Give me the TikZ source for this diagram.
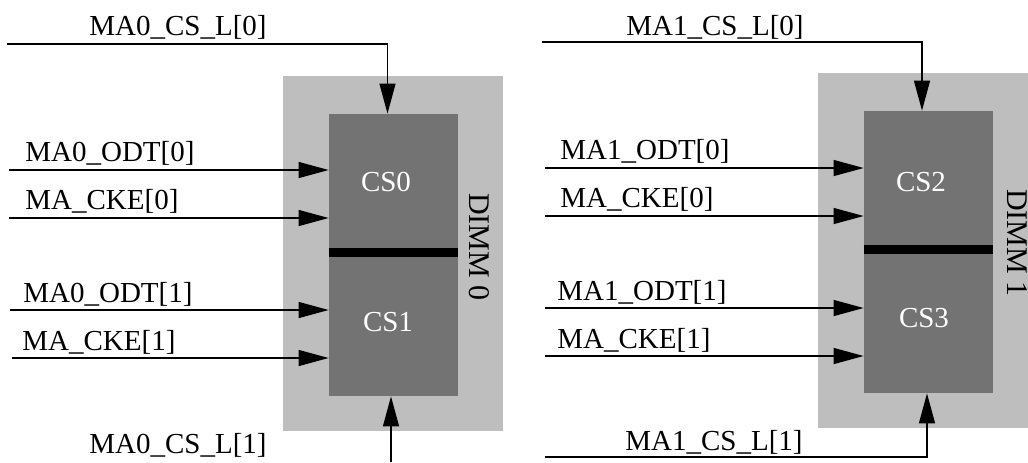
\documentclass[tikz,border=0pt]{standalone}
\usepackage{fontspec}
\setmainfont{Liberation Serif}
\usetikzlibrary{arrows.meta,fit}
\definecolor{dimmgray}{RGB}{190,190,190}
\definecolor{rankgray}{RGB}{115,115,115}
\tikzset{
  dimmbox/.style={fill=dimmgray,inner sep=0pt},
  rankbox/.style={fill=rankgray,inner sep=0pt},
  ranklabel/.style={inner sep=0pt,text=white,font=\fontsize{14.5}{16}\selectfont},
  rankbar/.style={line width=4.5pt},
  sigline/.style={-{Triangle[length=15pt,width=8pt]},line width=0.65pt},
  siglabel/.style={anchor=base west,inner sep=0pt,font=\fontsize{14.5}{16}\selectfont},
  dimmlabel/.style={rotate=-90,inner sep=0pt,font=\fontsize{15}{16}\selectfont}
}
\begin{document}
\begin{tikzpicture}[x=0.5pt,y=-0.5pt]
  \useasboundingbox (0,0) rectangle (1028,462);
  % DIMM 0
  \node[dimmbox,fit={(283,76) (503,431)}] (dimm0) {};
  \node[rankbox,fit={(329,114) (458,252)}] (cs0) {};
  \node[rankbox,fit={(329,252) (458,396)}] (cs1) {};
  \draw[rankbar] (cs0.south west)--(cs0.south east);
  \node[ranklabel] (cs0lbl) at (386,182) {CS0};
  \node[ranklabel] (cs1lbl) at (388,322) {CS1};
  \node[dimmlabel] (dimm0lbl) at (479,247) {DIMM 0};
  \coordinate (csl00) at (7,44);
  \coordinate (odt00) at (9,170);
  \coordinate (cke00) at (9,218);
  \coordinate (odt01) at (10,310);
  \coordinate (cke01) at (12,358);
  \coordinate (csl01) at (391,462);
  \node[siglabel] (csl00lbl) at (89,35) {MA0\_CS\_L[0]};
  \node[siglabel] (odt00lbl) at (25,161) {MA0\_ODT[0]};
  \node[siglabel] (cke00lbl) at (25,209) {MA\_CKE[0]};
  \node[siglabel] (odt01lbl) at (23,302) {MA0\_ODT[1]};
  \node[siglabel] (cke01lbl) at (22,350) {MA\_CKE[1]};
  \node[siglabel] (csl01lbl) at (89,453) {MA0\_CS\_L[1]};
  \draw[sigline] (csl00) -| ([xshift=-3pt]cs0.north);
  \draw[sigline] (odt00)--(odt00 -| cs0.west);
  \draw[sigline] (cke00)--(cke00 -| cs0.west);
  \draw[sigline] (odt01)--(odt01 -| cs1.west);
  \draw[sigline] (cke01)--(cke01 -| cs1.west);
  \draw[sigline] (csl01)--(csl01 |- cs1.south);
  % DIMM 1
  \node[dimmbox,fit={(818,73) (1028,428)}] (dimm1) {};
  \node[rankbox,fit={(864,111) (993,249)}] (cs2) {};
  \node[rankbox,fit={(864,249) (993,393)}] (cs3) {};
  \draw[rankbar] (cs2.south west)--(cs2.south east);
  \node[ranklabel] (cs2lbl) at (921,182) {CS2};
  \node[ranklabel] (cs3lbl) at (924,318) {CS3};
  \node[dimmlabel] (dimm1lbl) at (1017,243) {DIMM 1};
  \coordinate (csl10) at (542,42);
  \coordinate (odt10) at (545,168);
  \coordinate (cke10) at (545,216);
  \coordinate (odt11) at (545,308);
  \coordinate (cke11) at (545,356);
  \coordinate (csl11) at (545,457);
  \node[siglabel] (csl10lbl) at (626,35) {MA1\_CS\_L[0]};
  \node[siglabel] (odt10lbl) at (560,159) {MA1\_ODT[0]};
  \node[siglabel] (cke10lbl) at (560,207) {MA\_CKE[0]};
  \node[siglabel] (odt11lbl) at (557,300) {MA1\_ODT[1]};
  \node[siglabel] (cke11lbl) at (557,348) {MA\_CKE[1]};
  \node[siglabel] (csl11lbl) at (625,450) {MA1\_CS\_L[1]};
  \draw[sigline] (csl10) -| ([xshift=-3.25pt]cs2.north);
  \draw[sigline] (odt10)--(odt10 -| cs2.west);
  \draw[sigline] (cke10)--(cke10 -| cs2.west);
  \draw[sigline] (odt11)--(odt11 -| cs3.west);
  \draw[sigline] (cke11)--(cke11 -| cs3.west);
  \draw[sigline] (csl11) -| ([xshift=-0.75pt]cs3.south);
\end{tikzpicture}
\end{document}
